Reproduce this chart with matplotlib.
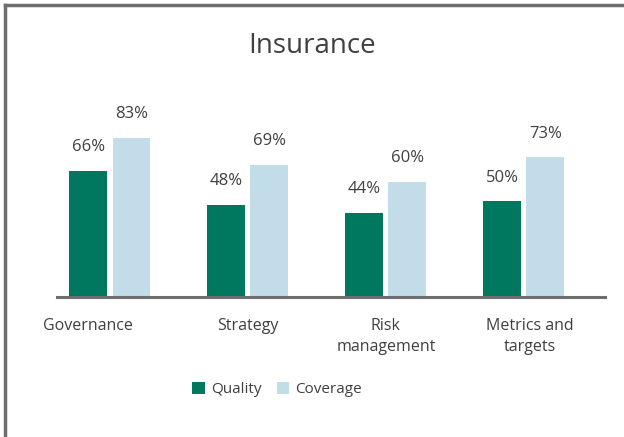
import numpy as np
import matplotlib.pyplot as plt
from matplotlib.lines import Line2D
from matplotlib.transforms import ScaledTranslation

plt.rcParams['font.family'] = ['Open Sans', 'DejaVu Sans']

categories = ["Governance", "Strategy", "Risk\nmanagement", "Metrics and\ntargets"]
quality = [66, 48, 44, 50]
coverage = [83, 69, 60, 73]
series_names = ["Quality", "Coverage"]

text_color = "#404040"
green = "#00775F"
light_blue = "#C2DCEA"
gray = "#6E6E6E"

fig = plt.figure(figsize=(6.24, 4.37), dpi=100)
ax = fig.add_axes([0.0913, 0.320, 0.878, 0.439])

x = np.arange(len(categories))
width = 0.275
offset = 0.156
b1 = ax.bar(x - offset, quality, width, color=green, label=series_names[0], zorder=2)
b2 = ax.bar(x + offset, coverage, width, color=light_blue, label=series_names[1], zorder=2)

for bars, vals in ((b1, quality), (b2, coverage)):
    for rect, v in zip(bars, vals):
        ax.annotate(f"{v}%", (rect.get_x() + rect.get_width() / 2, v),
                    xytext=(0, 17), textcoords="offset points",
                    ha="center", va="center", fontsize=12, color=text_color)

ax.set_xlim(-0.384, 3.587)
ax.set_ylim(0, 100)
for s in ("left", "right", "top"):
    ax.spines[s].set_visible(False)
ax.spines["bottom"].set_color(gray)
ax.spines["bottom"].set_linewidth(2.2)
ax.spines["bottom"].set_zorder(3)
ax.set_yticks([])
ax.set_xticks(x)
ax.set_xticklabels(categories, fontsize=11.5, color=text_color, va="top", linespacing=1.4)
ax.tick_params(axis="x", length=0, pad=15)
# the first and last labels are nudged in the original
labels = ax.get_xticklabels()
labels[0].set_transform(labels[0].get_transform() + ScaledTranslation(-0.22, 0, fig.dpi_scale_trans))
labels[3].set_transform(labels[3].get_transform() + ScaledTranslation(0.06, 0, fig.dpi_scale_trans))

fig.text(0.5, 0.895, "Insurance", ha="center", va="center", fontsize=20, color=text_color)

fig.legend(handles=[b1, b2], labels=series_names, loc="center", bbox_to_anchor=(0.444, 0.108),
           ncol=2, frameon=False, fontsize=11, handlelength=0.8, handleheight=0.8,
           handletextpad=0.4, columnspacing=1.0, labelcolor=text_color)

# frame lines on left and top
fig.add_artist(Line2D([5 / 624, 5 / 624], [0, 1 - 5 / 437], color=gray, lw=2.5,
                      transform=fig.transFigure))
fig.add_artist(Line2D([5 / 624, 1], [1 - 5 / 437, 1 - 5 / 437], color=gray, lw=2.5,
                      transform=fig.transFigure))

fig.savefig("out.png", dpi=100)
